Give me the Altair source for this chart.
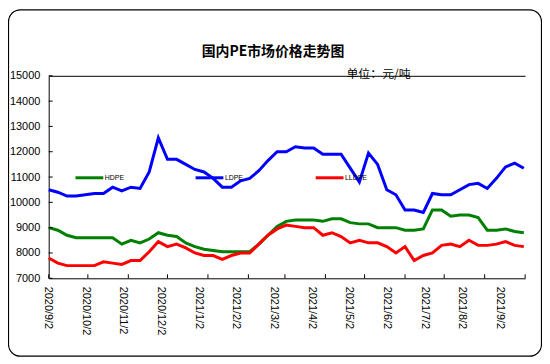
import altair as alt
import pandas as pd

# ---------------- data ----------------
dates = pd.date_range("2020-09-02", periods=53, freq="7D").strftime("%Y-%m-%d").tolist()

hdpe = [9000, 8900, 8700, 8600, 8600, 8600, 8600, 8600, 8350, 8500,
        8400, 8550, 8800, 8700, 8650, 8400, 8250, 8150, 8100, 8050,
        8050, 8050, 8050, 8350, 8700, 9050, 9250, 9300, 9300, 9300,
        9250, 9350, 9350, 9200, 9150, 9150, 9000, 9000, 9000, 8900,
        8900, 8950, 9700, 9700, 9450, 9500, 9500, 9400, 8900, 8900,
        8950, 8850, 8800]
ldpe = [10500, 10400, 10250, 10250, 10300, 10350, 10350, 10600, 10450, 10600,
        10550, 11200, 12550, 11700, 11700, 11500, 11300, 11200, 10950, 10600,
        10600, 10850, 10950, 11250, 11650, 12000, 12000, 12200, 12150, 12150,
        11900, 11900, 11900, 11350, 10800, 11950, 11500, 10500, 10300, 9700,
        9700, 9600, 10350, 10300, 10300, 10500, 10700, 10750, 10550, 10950,
        11400, 11550, 11350]
lldpe = [7800, 7600, 7500, 7500, 7500, 7500, 7650, 7600, 7550, 7700,
         7700, 8050, 8450, 8250, 8350, 8200, 8000, 7900, 7900, 7750,
         7900, 8000, 8000, 8350, 8700, 8950, 9100, 9050, 9000, 9000,
         8700, 8800, 8650, 8400, 8500, 8400, 8400, 8250, 8000, 8250,
         7700, 7900, 8000, 8300, 8350, 8250, 8500, 8300, 8300, 8350,
         8450, 8300, 8250]

series_names = ["HDPE", "LDPE", "LLDPE"]
series_colors = ["#008000", "#0000FF", "#FF0000"]
x_labels = ["2020/9/2", "2020/10/2", "2020/11/2", "2020/12/2", "2021/1/2",
            "2021/2/2", "2021/3/2", "2021/4/2", "2021/5/2", "2021/6/2",
            "2021/7/2", "2021/8/2", "2021/9/2"]
y_ticks = [7000, 8000, 9000, 10000, 11000, 12000, 13000, 14000, 15000]
title_text = "国内PE市场价格走势图"
unit_text = "单位：元/吨"

# ---------------- layout ----------------
W, H = 480, 204
PAD = {"left": 41, "top": 67, "right": 17, "bottom": 79}
NUM_FONT = "Liberation Sans"
CJK_FONT = "Noto Sans CJK SC"

rows = []
for name, vals in zip(series_names, [hdpe, ldpe, lldpe]):
    for d, v in zip(dates, vals):
        rows.append({"date": d, "price": v, "series": name})
df = pd.DataFrame(rows)

tick_df = pd.DataFrame({
    "label": x_labels,
    "date": [pd.to_datetime(l, format="%Y/%m/%d").strftime("%Y-%m-%d") for l in x_labels],
})
ytick_df = pd.DataFrame({"v": y_ticks})

t_domain = [alt.DateTime(year=2020, month=9, date=2), alt.DateTime(year=2021, month=9, date=2)]
t_scale = alt.Scale(domain=t_domain, nice=False)
y_scale = alt.Scale(domain=[7000, 15000], nice=False, zero=False)

x_axis = alt.Axis(labels=False, ticks=False, grid=False, domain=True,
                  domainColor="black", title=None)
y_axis = alt.Axis(values=y_ticks, format="d", ticks=False, grid=False, domain=True,
                  domainColor="black", labelPadding=9, labelFont=NUM_FONT,
                  labelFontSize=11, labelColor="black", title=None)

border = alt.Chart(pd.DataFrame({"a": [0]})).mark_rect(
    fillOpacity=0, stroke="black", strokeWidth=1.2, cornerRadius=12
).encode(
    x=alt.value(-PAD["left"] + 0.5), x2=alt.value(W + PAD["right"] - 0.5),
    y=alt.value(-PAD["top"] + 0.5), y2=alt.value(H + PAD["bottom"] - 0.5),
)

lines = alt.Chart(df).mark_line(strokeWidth=3).encode(
    x=alt.X("date:T", scale=t_scale, axis=x_axis),
    y=alt.Y("price:Q", scale=y_scale, axis=y_axis),
    color=alt.Color("series:N",
                    scale=alt.Scale(domain=series_names, range=series_colors),
                    legend=alt.Legend(orient="none", legendX=25.5, legendY=87,
                                      direction="horizontal", columns=3, title=None,
                                      symbolType="stroke", symbolSize=784,
                                      symbolStrokeWidth=3, labelFont=NUM_FONT,
                                      labelFontSize=7, labelColor="black",
                                      labelOffset=0, columnPadding=62,
                                      gridAlign="all", padding=0)),
)

xticks = alt.Chart(tick_df).mark_rule(color="black", strokeWidth=1).encode(
    x=alt.X("date:T", scale=t_scale, axis=x_axis),
    y=alt.value(H - 4), y2=alt.value(H),
)

yticks = alt.Chart(ytick_df).mark_rule(color="black", strokeWidth=1).encode(
    y=alt.Y("v:Q", scale=y_scale, axis=y_axis),
    x=alt.value(0), x2=alt.value(4),
)

xlabels = alt.Chart(tick_df).mark_point(opacity=0).encode(
    x=alt.X("label:O",
            scale=alt.Scale(type="point", domain=x_labels, range=[-1, 454], padding=0),
            axis=alt.Axis(orient="bottom", domain=False, ticks=False, grid=False,
                          labelAngle=90, labelPadding=8, labelFont=NUM_FONT,
                          labelFontSize=11, labelColor="black", labelOverlap=False,
                          title=None)),
    y=alt.value(0),
)

title = alt.Chart(pd.DataFrame({"t": [title_text]})).mark_text(
    font=CJK_FONT, fontSize=14, fontWeight="bold", color="black",
    align="center", baseline="middle"
).encode(text="t:N", x=alt.value(226), y=alt.value(-24))

unit = alt.Chart(pd.DataFrame({"t": [unit_text]})).mark_text(
    font=CJK_FONT, fontSize=12, color="black", align="left", baseline="middle"
).encode(text="t:N", x=alt.value(300), y=alt.value(-1.5))

chart = alt.layer(border, lines, xticks, yticks, xlabels, title, unit).resolve_scale(
    x="independent"
).properties(
    width=W, height=H, padding=PAD,
    autosize=alt.AutoSizeParams(type="none"),
    background="white",
).configure_view(strokeWidth=0)

chart.save("out.html", embed_options={"renderer": "svg", "actions": False})
